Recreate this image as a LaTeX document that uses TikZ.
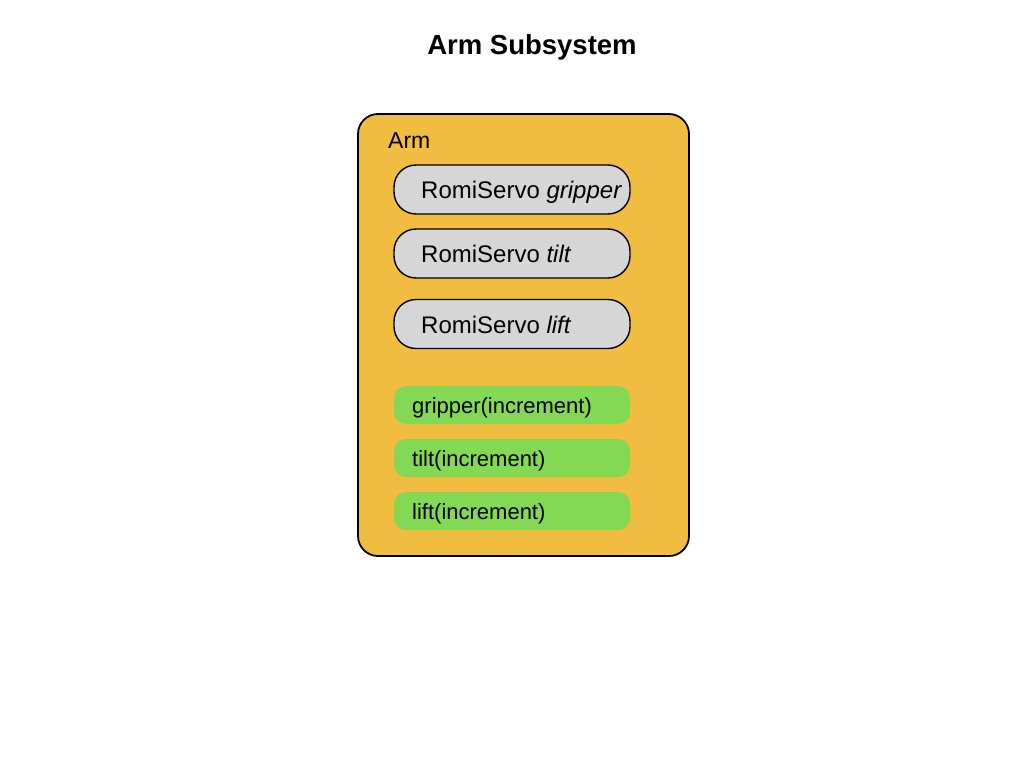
\documentclass[tikz,border=0pt]{standalone}
\usepackage{fontspec}
\setmainfont{Liberation Sans}
\definecolor{armfill}{HTML}{F0BD41}
\definecolor{servofill}{HTML}{D6D6D6}
\definecolor{cmdfill}{HTML}{83D854}
\begin{document}
\begin{tikzpicture}[x=1pt,y=-1pt,
  outerbox/.style={draw=black, line width=1.8pt, fill=armfill, rounded corners=20pt, minimum width=331pt, minimum height=442pt, inner sep=0pt},
  servobox/.style={draw=black, line width=1.4pt, fill=servofill, rounded corners=22pt, minimum width=236pt, minimum height=49pt, inner sep=0pt},
  cmdbox/.style={fill=cmdfill, rounded corners=12pt, minimum width=236pt, minimum height=38pt, inner sep=0pt},
  servotext/.style={anchor=base west, inner sep=0pt, font=\fontsize{24}{28}\selectfont},
  cmdtext/.style={anchor=base west, inner sep=0pt, font=\fontsize{22}{26}\selectfont},
  titletext/.style={anchor=base, inner sep=0pt, font=\fontsize{27.5}{32}\selectfont\bfseries}
]
\useasboundingbox[fill=white] (0,0) rectangle (1024,768);
\node[titletext] (title) at (532,54.3) {Arm Subsystem};
\node[outerbox] (arm) at (523.5,335) {};
\node[servotext, font=\fontsize{23}{27}\selectfont] (armlabel) at (388,148) {Arm};
\node[servobox] (sg) at (512,189.5) {};
\node[servotext] (sgt) at (421,198) {RomiServo \textit{gripper}};
\node[servobox] (st) at (512,253.5) {};
\node[servotext] (stt) at (421,262.5) {RomiServo \textit{tilt}};
\node[servobox] (sl) at (512,324) {};
\node[servotext] (slt) at (421,333) {RomiServo \textit{lift}};
\node[cmdbox] (cg) at (512,405) {};
\node[cmdtext] (cgt) at (412,413.5) {gripper(increment)};
\node[cmdbox] (ct) at (512,458) {};
\node[cmdtext] (ctt) at (412,466.5) {tilt(increment)};
\node[cmdbox] (cl) at (512,511) {};
\node[cmdtext] (clt) at (412,519.5) {lift(increment)};
\end{tikzpicture}
\end{document}
